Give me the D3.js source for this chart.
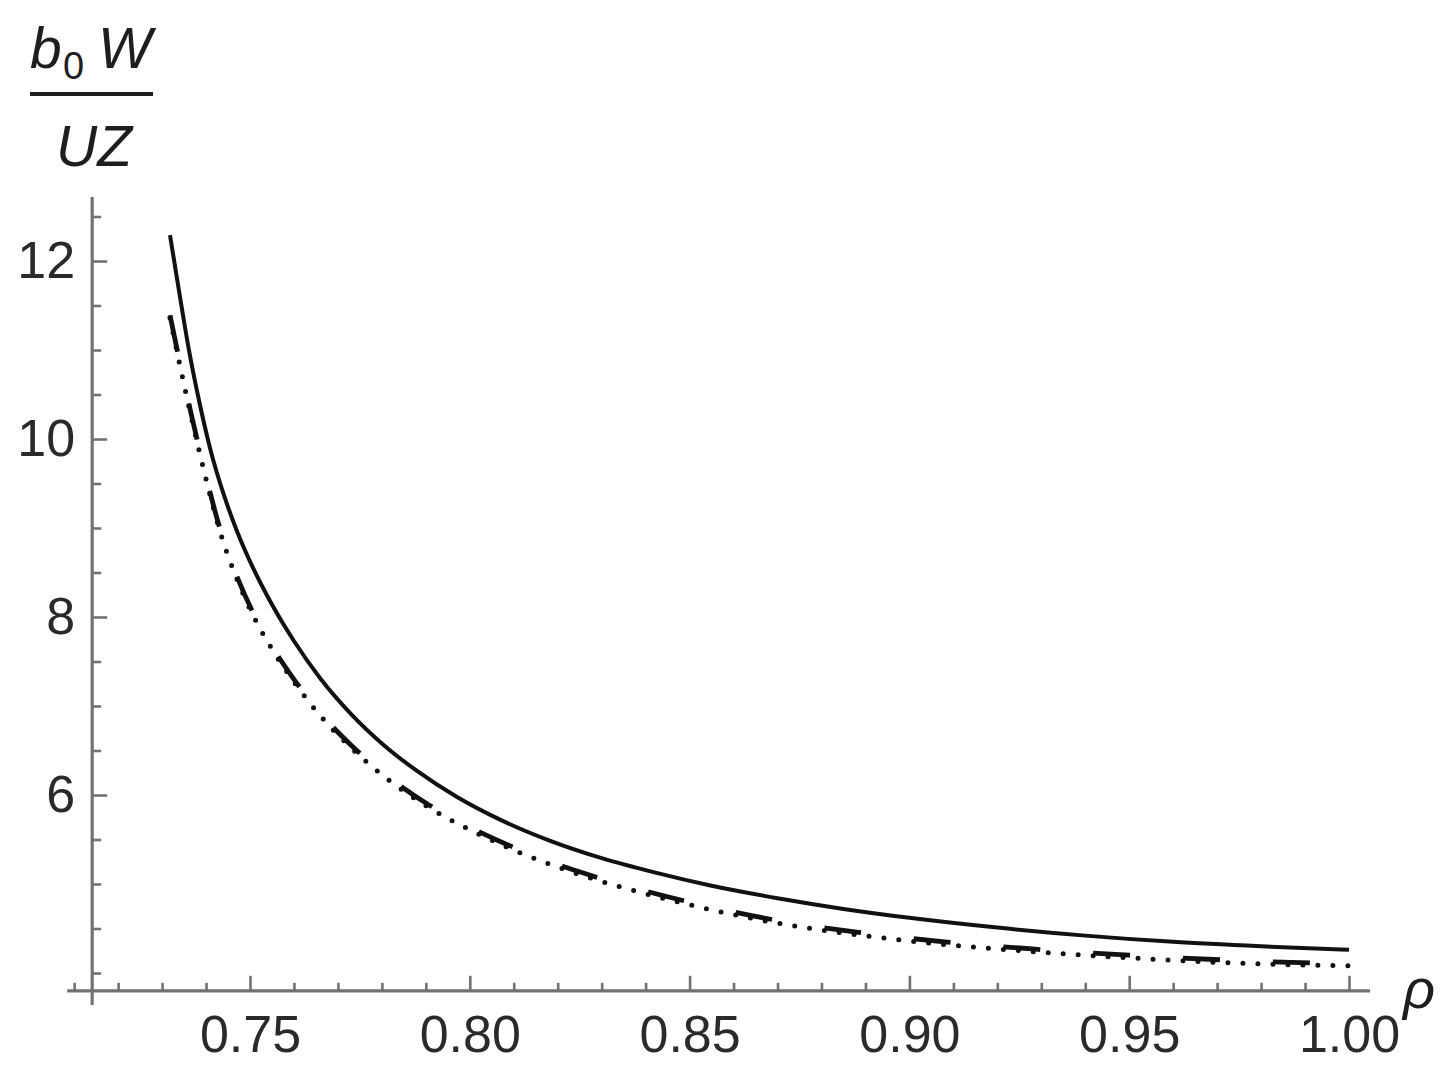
<!DOCTYPE html>
<html>
<head>
<meta charset="utf-8">
<script src="https://cdn.jsdelivr.net/npm/d3@7"></script>
<style>
  body { margin: 0; background: #fff; }
  svg { display: block; }
  text { font-family: "Liberation Sans", Arial, sans-serif; }
</style>
</head>
<body>
<div id="vis"></div>
<script>
const W = 1455, H = 1073;

// curves: [rho, b0 W / (U Z)]
const solidCurve = [
  [0.7318, 12.29], [0.734, 11.62], [0.736, 11.03], [0.7385, 10.41], [0.741, 9.88],
  [0.744, 9.38], [0.747, 8.97], [0.751, 8.52], [0.755, 8.14], [0.760, 7.73],
  [0.766, 7.31], [0.773, 6.91], [0.780, 6.58], [0.788, 6.27], [0.797, 5.98],
  [0.807, 5.72], [0.818, 5.49], [0.830, 5.29], [0.842, 5.13], [0.855, 4.98],
  [0.870, 4.84], [0.885, 4.72], [0.900, 4.62], [0.920, 4.51], [0.940, 4.42],
  [0.960, 4.35], [0.980, 4.30], [1.000, 4.26]
];
const dashedCurve = [
  [0.7318, 11.39], [0.734, 10.87], [0.737, 10.20], [0.740, 9.58], [0.743, 9.02],
  [0.747, 8.46], [0.751, 8.02], [0.755, 7.67], [0.760, 7.30], [0.766, 6.92],
  [0.773, 6.56], [0.781, 6.22], [0.790, 5.91], [0.800, 5.64], [0.812, 5.37],
  [0.826, 5.12], [0.840, 4.92], [0.855, 4.74], [0.870, 4.59], [0.888, 4.46],
  [0.908, 4.35], [0.928, 4.27], [0.950, 4.20], [0.975, 4.14], [1.000, 4.10]
];
const dottedCurve = [
  [0.7318, 11.36], [0.734, 10.84], [0.737, 10.17], [0.740, 9.55], [0.743, 8.99],
  [0.747, 8.43], [0.751, 7.99], [0.755, 7.64], [0.760, 7.27], [0.766, 6.89],
  [0.773, 6.53], [0.781, 6.19], [0.790, 5.88], [0.800, 5.61], [0.812, 5.34],
  [0.826, 5.09], [0.840, 4.89], [0.855, 4.71], [0.870, 4.56], [0.888, 4.43],
  [0.908, 4.32], [0.928, 4.24], [0.950, 4.17], [0.975, 4.11], [1.000, 4.08]
];

const xMajor = [0.75, 0.80, 0.85, 0.90, 0.95, 1.00];
const xMinor = [0.71, 0.72, 0.73, 0.74, 0.76, 0.77, 0.78, 0.79, 0.81, 0.82, 0.83, 0.84,
  0.86, 0.87, 0.88, 0.89, 0.91, 0.92, 0.93, 0.94, 0.96, 0.97, 0.98, 0.99];
const yMajor = [6, 8, 10, 12];
const yMinor = [4, 4.5, 5, 5.5, 6.5, 7, 7.5, 8.5, 9, 9.5, 10.5, 11, 11.5, 12.5];

const xDomain = [0.7084, 1.0048];   // extent of the horizontal axis line
const yDomain = [3.64, 12.72];      // extent of the vertical axis line
const xCross = 0.7141, yCross = 3.80;

const axisColor = "#727272";

const x = d3.scaleLinear().domain([0.75, 1.0]).range([250, 1349]);
const y = d3.scaleLinear().domain([6, 12]).range([795, 261]);

const svg = d3.select("#vis").append("svg")
  .attr("width", W).attr("height", H);

// --- axes ---
const xg = svg.append("g").attr("transform", `translate(0,${y(yCross)})`);
xg.append("line")
  .attr("x1", x(xDomain[0])).attr("x2", x(xDomain[1]))
  .attr("stroke", axisColor).attr("stroke-width", 3.2);
xg.append("g").call(d3.axisBottom(x).tickValues(xMinor).tickSize(-8).tickFormat(""));
xg.append("g").call(d3.axisBottom(x).tickValues(xMajor).tickSize(-15).tickPadding(24)
  .tickFormat(d3.format(".2f")));

const yg = svg.append("g").attr("transform", `translate(${x(xCross)},0)`);
yg.append("line")
  .attr("y1", y(yDomain[0])).attr("y2", y(yDomain[1]))
  .attr("stroke", axisColor).attr("stroke-width", 3.2);
yg.append("g").call(d3.axisLeft(y).tickValues(yMinor).tickSize(-9).tickFormat(""));
yg.append("g").call(d3.axisLeft(y).tickValues(yMajor).tickSize(-15).tickPadding(17)
  .tickFormat(d3.format("d")));

svg.selectAll(".domain").remove();
svg.selectAll(".tick line").attr("stroke", axisColor).attr("stroke-width", 2.6);
svg.selectAll(".tick text")
  .attr("fill", "#2a2a2a")
  .style("font-size", "52px")
  .style("font-family", "'Liberation Sans', Arial, sans-serif");

// --- curves ---
const line = d3.line()
  .x(d => x(d[0]))
  .y(d => y(d[1]))
  .curve(d3.curveMonotoneX);

svg.append("path")
  .datum(dottedCurve)
  .attr("d", line)
  .attr("fill", "none")
  .attr("stroke", "#111")
  .attr("stroke-width", 5)
  .attr("stroke-linecap", "round")
  .attr("stroke-dasharray", "0,15");

svg.append("path")
  .datum(dashedCurve)
  .attr("d", line)
  .attr("fill", "none")
  .attr("stroke", "#111")
  .attr("stroke-width", 4.8)
  .attr("stroke-dasharray", "37,53");

svg.append("path")
  .datum(solidCurve)
  .attr("d", line)
  .attr("fill", "none")
  .attr("stroke", "#111")
  .attr("stroke-width", 4);

// --- axis titles ---
const title = svg.append("g").attr("fill", "#1e1e1e")
  .style("font-style", "italic");
title.append("text").attr("x", 30).attr("y", 68)
  .style("font-size", "57px").text("b");
title.append("text").attr("x", 63).attr("y", 79)
  .style("font-style", "normal").style("font-size", "38px").text("0");
title.append("text").attr("x", 98).attr("y", 68)
  .style("font-size", "57px").text("W");
title.append("line")
  .attr("x1", 30).attr("x2", 153).attr("y1", 94).attr("y2", 94)
  .attr("stroke", "#1e1e1e").attr("stroke-width", 4);
title.append("text").attr("x", 94).attr("y", 166)
  .attr("text-anchor", "middle")
  .style("font-size", "57px").text("UZ");

svg.append("text")
  .attr("x", 1403).attr("y", 1008)
  .attr("fill", "#1e1e1e")
  .style("font-style", "italic")
  .style("font-size", "56px")
  .text("ρ");
</script>
</body>
</html>
